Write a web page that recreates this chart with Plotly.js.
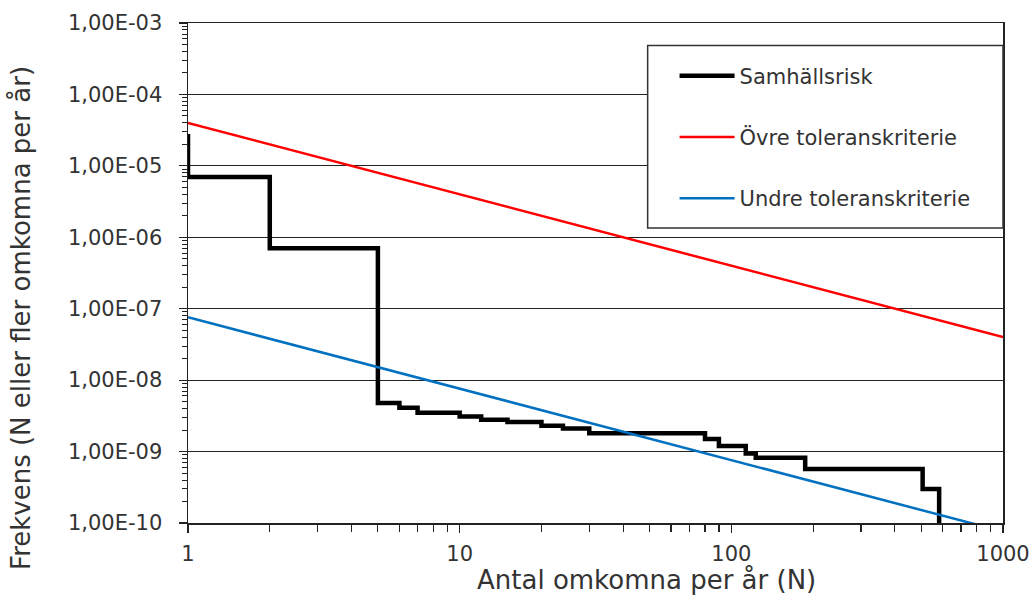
<!DOCTYPE html>
<html>
<head>
<meta charset="utf-8">
<script src="https://cdn.plot.ly/plotly-3.0.1.min.js"></script>
<style>html,body{margin:0;padding:0;background:#fff;}#chart{width:1035px;height:596px;}</style>
</head>
<body>
<div id="chart"></div>
<script>
// Samhällsrisk (F/N step curve)
const riskN    = [1, 1, 2, 5, 6, 7, 10, 12, 15, 20, 24, 30, 80, 90, 113, 123, 187, 506, 582];
const riskFreq = [2.8e-5, 7e-6, 7e-7, 4.8e-9, 4.1e-9, 3.5e-9, 3.1e-9, 2.8e-9, 2.6e-9, 2.3e-9, 2.1e-9, 1.8e-9, 1.5e-9, 1.2e-9, 9.4e-10, 8.2e-10, 5.7e-10, 3.0e-10, 1e-11];
// Övre toleranskriterie
const upperN    = [1, 1000];
const upperFreq = [4e-5, 4e-8];
// Undre toleranskriterie
const lowerN    = [1, 1000];
const lowerFreq = [7.6e-8, 7.6e-11];

const seriesNames = ["Samhällsrisk", "Övre toleranskriterie", "Undre toleranskriterie"];

const yTickVals = [1e-10, 1e-9, 1e-8, 1e-7, 1e-6, 1e-5, 1e-4, 1e-3];
const yTickText = ["1,00E-10", "1,00E-09", "1,00E-08", "1,00E-07", "1,00E-06", "1,00E-05", "1,00E-04", "1,00E-03"];
const xTickVals = [1, 10, 100, 1000];
const xTickText = ["1", "10", "100", "1000"];

const xTitle = "Antal omkomna per år (N)";
const yTitle = "Frekvens (N eller fler omkomna per år)";

const FONT = "DejaVu Sans, sans-serif";
const TXT = "#333333";

const traces = [
  {x: riskN, y: riskFreq, name: seriesNames[0], mode: "lines", type: "scatter",
   line: {color: "#000000", width: 4.5, shape: "hv"}, legendgroup: "a"},
  {x: upperN, y: upperFreq, name: seriesNames[1], mode: "lines", type: "scatter",
   line: {color: "#FF0000", width: 2.5}, legendgroup: "b"},
  {x: lowerN, y: lowerFreq, name: seriesNames[2], mode: "lines", type: "scatter",
   line: {color: "#0070C0", width: 2.5}, legendgroup: "c"}
];

const layout = {
  width: 1035, height: 596,
  margin: {l: 188, r: 32, t: 23, b: 73, pad: 0},
  paper_bgcolor: "#ffffff", plot_bgcolor: "#ffffff",
  font: {family: FONT, color: TXT, size: 21},
  showlegend: true,
  legend: {
    x: 0.597, xanchor: "left", y: 0.935, yanchor: "top",
    bgcolor: "rgba(0,0,0,0)", borderwidth: 0,
    font: {family: FONT, size: 21, color: TXT},
    itemwidth: 55, traceorder: "grouped", tracegroupgap: 31
  },
  xaxis: {
    type: "log", range: [0, 3],
    tickmode: "array", tickvals: xTickVals, ticktext: xTickText,
    ticks: "outside", ticklen: 8, tickwidth: 1.2, tickcolor: "#222",
    showline: true, linecolor: "#222", linewidth: 1.5, mirror: true,
    showgrid: false, zeroline: false,
    tickfont: {family: FONT, size: 21, color: TXT},
    ticklabelstandoff: 3,
    minor: {ticks: "outside", ticklen: 7, tickcolor: "#222", tickwidth: 1.2, dtick: "D1", showgrid: false}
  },
  yaxis: {
    type: "log", range: [-10, -3],
    tickmode: "array", tickvals: yTickVals, ticktext: yTickText,
    ticks: "outside", ticklen: 8, tickwidth: 1.2, tickcolor: "#222",
    showline: true, linecolor: "#222", linewidth: 1.5, mirror: true,
    showgrid: true, gridcolor: "#222", gridwidth: 1.2, zeroline: false,
    tickfont: {family: FONT, size: 21, color: TXT},
    ticklabelstandoff: 12,
    minor: {ticks: "outside", ticklen: 5, tickcolor: "#222", tickwidth: 1, dtick: "D1", showgrid: false}
  },
  shapes: [
    {type: "rect", xref: "paper", yref: "paper", layer: "above",
     x0: 0.564, x1: 1.0, y0: 0.59, y1: 0.955,
     fillcolor: "#ffffff", line: {color: "#333333", width: 1.5}}
  ],
  annotations: [
    {text: xTitle, xref: "paper", yref: "paper", x: 0.562, y: -0.082, xanchor: "center", yanchor: "top",
     borderpad: 0, showarrow: false, font: {family: FONT, size: 26, color: TXT}},
    {text: yTitle, xref: "paper", yref: "paper", x: -0.205, y: 0.41, xanchor: "center", yanchor: "middle",
     textangle: -90, showarrow: false, font: {family: FONT, size: 26, color: TXT}}
  ]
};

Plotly.newPlot("chart", traces, layout, {displayModeBar: false, staticPlot: true});
</script>
</body>
</html>
